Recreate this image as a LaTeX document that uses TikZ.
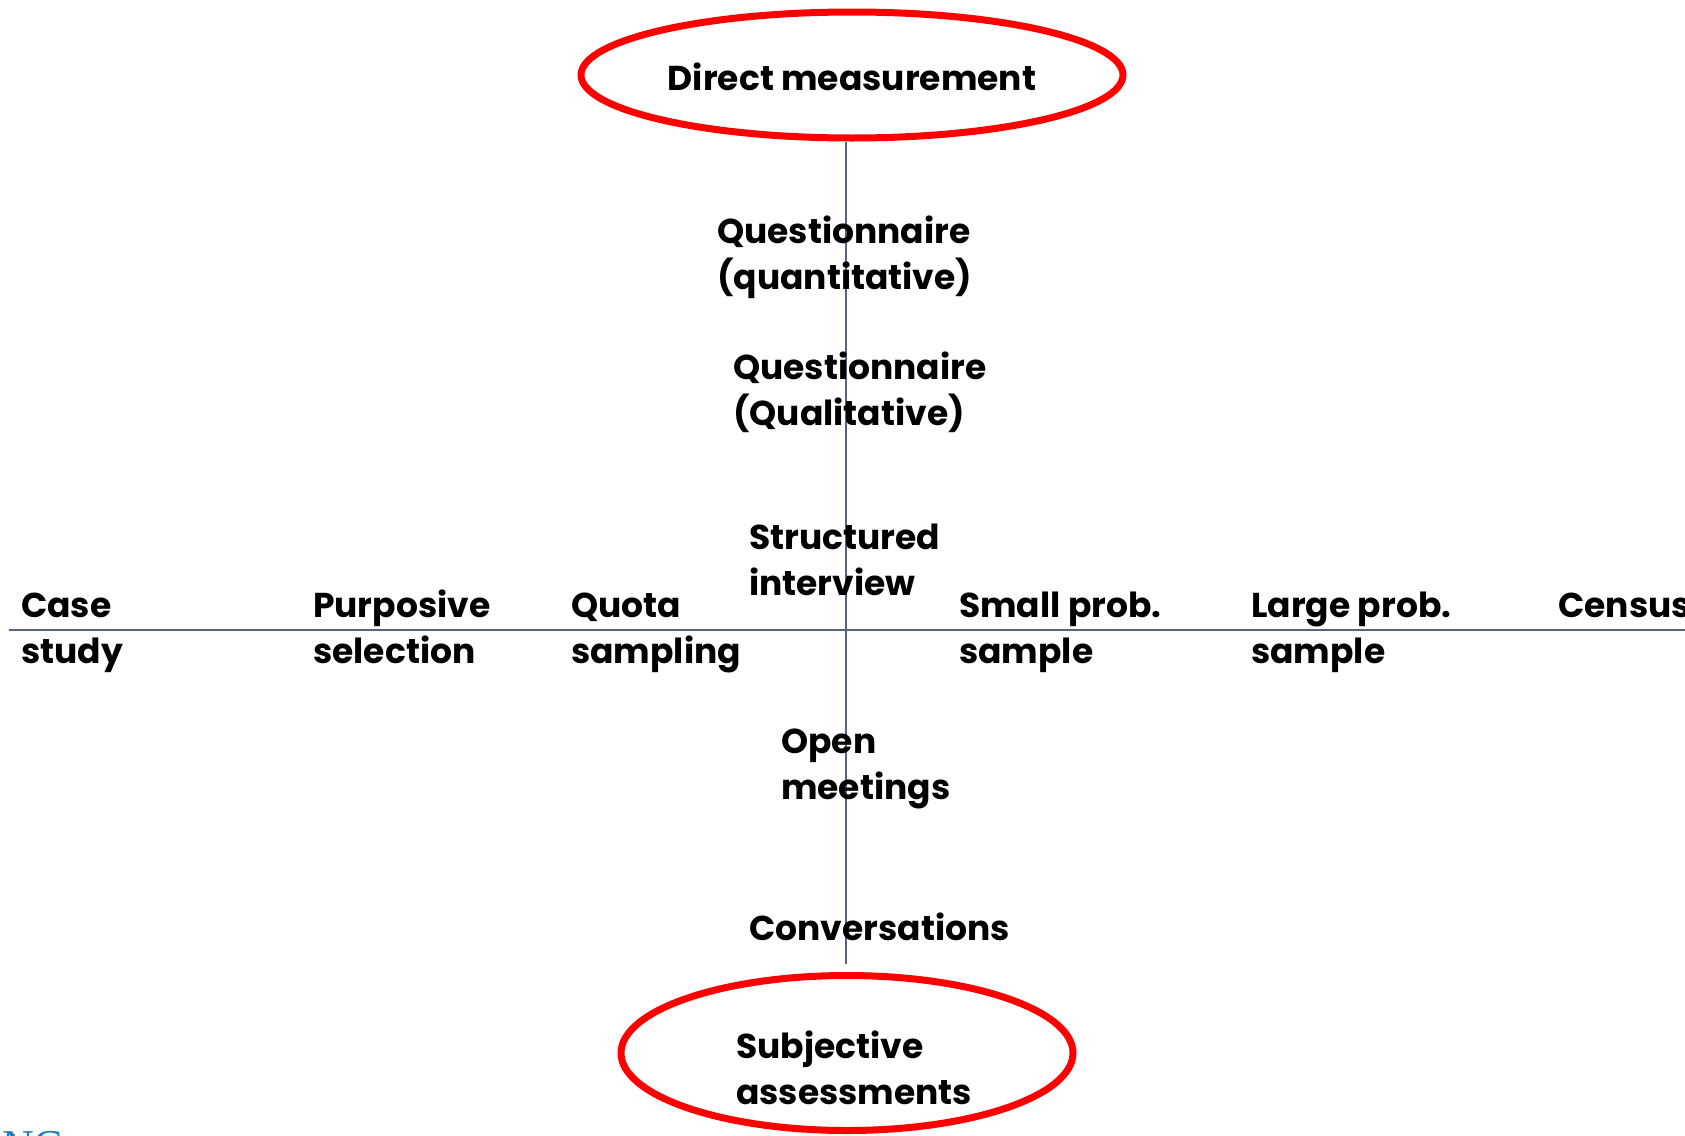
\documentclass[tikz,border=0pt]{standalone}
\usepackage{fontspec}
\setmainfont{Liberation Serif}
\newfontfamily\gothic{Poppins}
\newfontfamily\ncfont{Liberation Serif}
\usetikzlibrary{shapes.geometric}
\definecolor{axisgray}{HTML}{55657F}
\definecolor{ringred}{HTML}{FF0000}
\definecolor{ncblue}{HTML}{1F7CC4}
\tikzset{
  lbl/.style={anchor=base west,inner sep=0pt,font=\gothic\bfseries\fontsize{34.5}{46}\selectfont},
  ring/.style={ellipse,draw=ringred,line width=7pt,inner sep=0pt},
  axis/.style={draw=axisgray,line width=2.6pt}
}
\newcommand{\twol}[2]{\begin{tabular}[t]{@{}l@{}}#1\\#2\end{tabular}}
\begin{document}
\begin{tikzpicture}[x=1pt,y=-1pt]
\useasboundingbox (0,0) rectangle (1685,1135);
\node[ring,minimum width=542pt,minimum height=126pt] (dm) at (852,75) {};
\node[lbl,anchor=base] (dmt) at (852,90) {Direct measurement};
\node[ring,minimum width=452pt,minimum height=155pt] (sa) at (847,1053) {};
\node[lbl] (sat) at (736,1058) {\twol{Subjective}{assessments}};
\coordinate (vend) at (846,964);
\coordinate (hl) at (9,630);
\coordinate (hr) at (1685,630);
\draw[axis] (dm.south -| vend) -- (vend);
\draw[axis] (hl) -- (hr);
\node[lbl] (qq) at (717,243) {\twol{Questionnaire}{(quantitative)}};
\node[lbl] (ql) at (733,379) {\twol{Questionnaire}{(Qualitative)}};
\node[lbl] (si) at (749,549) {\twol{Structured}{interview}};
\node[lbl] (cs) at (21,617) {\twol{Case}{study}};
\node[lbl] (ps) at (313,617) {\twol{Purposive}{selection}};
\node[lbl] (qs) at (571,617) {\twol{Quota}{sampling}};
\node[lbl] (sp) at (959,617) {\twol{Small prob.}{sample}};
\node[lbl] (lp) at (1251,617) {\twol{Large prob.}{sample}};
\node[lbl] (ce) at (1558,617) {Census};
\node[lbl] (om) at (781,753) {\twol{Open}{meetings}};
\node[lbl] (cv) at (749,940) {Conversations};
\node[anchor=base west,inner sep=0pt,text=ncblue,font=\ncfont\fontsize{44}{50}\selectfont] (nc) at (2,1160) {NC};
\end{tikzpicture}
\end{document}
